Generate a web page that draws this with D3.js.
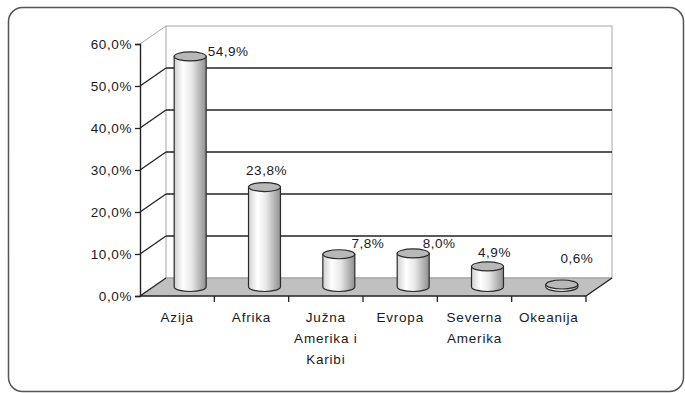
<!DOCTYPE html>
<html>
<head>
<meta charset="utf-8">
<script src="https://cdn.jsdelivr.net/npm/d3@7"></script>
<style>
  body { margin: 0; background: #fff; }
  svg text { font-family: "Liberation Sans", Arial, sans-serif; fill: #1a1a1a; }
</style>
</head>
<body>
<figure id="bar" style="margin:0"></figure>
<script>
const categories = [
  ["Azija"],
  ["Afrika"],
  ["Južna", "Amerika i", "Karibi"],
  ["Evropa"],
  ["Severna", "Amerika"],
  ["Okeanija"]
]
const values = [54.9, 23.8, 7.8, 8.0, 4.9, 0.6]
const valueLabels = ["54,9%", "23,8%", "7,8%", "8,0%", "4,9%", "0,6%"]
const yTicks = [0, 10, 20, 30, 40, 50, 60]
const yTickLabels = ["0,0%", "10,0%", "20,0%", "30,0%", "40,0%", "50,0%", "60,0%"]

// Excel put the value labels a bit wherever, nudge them from the cylinder top
const labelNudge = [[38, -5], [2, -17], [29, -11], [26, -10], [7, -14], [15, -26]]

const width = 685
const height = 393
const depthX = 26
const depthY = -18

const svg = d3.select("figure#bar")
  .append("svg")
  .attr("width", width)
  .attr("height", height)

// rounded frame
svg.append("rect")
  .attr("x", 8.5).attr("y", 7.5)
  .attr("width", 675).attr("height", 384)
  .attr("rx", 14)
  .attr("fill", "none")
  .attr("stroke", "#555")
  .attr("stroke-width", 1.5)

const x = d3.scaleBand()
  .domain(d3.range(categories.length))
  .range([140, 586])

const y = d3.scaleLinear()
  .domain([0, 60])
  .range([296, 44])

const x0 = x.range()[0], x1 = x.range()[1]

const defs = svg.append("defs")
const grad = defs.append("linearGradient").attr("id", "cyl")
grad.append("stop").attr("offset", "0%").attr("stop-color", "#d0d0d0")
grad.append("stop").attr("offset", "28%").attr("stop-color", "#ffffff")
grad.append("stop").attr("offset", "55%").attr("stop-color", "#e8e8e8")
grad.append("stop").attr("offset", "100%").attr("stop-color", "#8f8f8f")

// back wall
svg.append("rect")
  .attr("x", x0 + depthX).attr("y", y(60) + depthY)
  .attr("width", x1 - x0).attr("height", y(0) - y(60))
  .attr("fill", "#fff")
  .attr("stroke", "#a6a6a6")

// floor
svg.append("path")
  .attr("d", `M${x0},${y(0)}L${x1},${y(0)}L${x1 + depthX},${y(0) + depthY}L${x0 + depthX},${y(0) + depthY}Z`)
  .attr("fill", "#c0c0c0")
  .attr("stroke", "none")
svg.append("line")
  .attr("x1", x0 + depthX).attr("x2", x1 + depthX)
  .attr("y1", y(0) + depthY).attr("y2", y(0) + depthY)
  .attr("stroke", "#999")

// gridlines on back wall + side wall diagonals
svg.selectAll(".grid")
  .data(yTicks.filter(t => t > 0 && t < 60))
  .enter()
  .append("line")
  .attr("x1", x0 + depthX).attr("x2", x1 + depthX)
  .attr("y1", d => y(d) + depthY).attr("y2", d => y(d) + depthY)
  .attr("stroke", "#222")
  .attr("stroke-width", 1.4)

svg.selectAll(".diag")
  .data(yTicks)
  .enter()
  .append("line")
  .attr("x1", x0).attr("x2", x0 + depthX)
  .attr("y1", d => y(d)).attr("y2", d => y(d) + depthY)
  .attr("stroke", d => d === 60 ? "#aaa" : "#222")
  .attr("stroke-width", d => d === 60 ? 1 : 1.3)

// right edge of floor
svg.append("line")
  .attr("x1", x1).attr("x2", x1 + depthX)
  .attr("y1", y(0)).attr("y2", y(0) + depthY)
  .attr("stroke", "#222")
  .attr("stroke-width", 1.3)

// y axis
const yAxis = svg.append("g")
  .attr("transform", "translate(" + x0 + ",0)")
  .call(d3.axisLeft(y).tickValues(yTicks).tickSize(5).tickFormat((d, i) => yTickLabels[i]))
yAxis.select(".domain").attr("stroke", "#222").attr("stroke-width", 1.4)
yAxis.selectAll(".tick line").attr("stroke", "#222").attr("stroke-width", 1.3)
yAxis.selectAll(".tick text")
  .attr("x", -8)
  .style("font-size", "13.5px")
  .style("letter-spacing", "0.6px")
  .attr("fill", "#1a1a1a")

// x axis line + ticks between categories
svg.append("line")
  .attr("x1", x0).attr("x2", x1)
  .attr("y1", y(0)).attr("y2", y(0))
  .attr("stroke", "#222").attr("stroke-width", 1.4)
svg.selectAll(".xtick")
  .data(d3.range(1, categories.length + 1))
  .enter()
  .append("line")
  .attr("x1", i => x0 + i * x.step()).attr("x2", i => x0 + i * x.step())
  .attr("y1", y(0)).attr("y2", y(0) + 6)
  .attr("stroke", "#222").attr("stroke-width", 1.3)

// category labels
const catText = svg.selectAll(".cat")
  .data(categories)
  .enter()
  .append("text")
  .attr("text-anchor", "middle")
  .style("font-size", "13.5px")
  .style("letter-spacing", "0.8px")
  .attr("x", (d, i) => x(i) + x.bandwidth() / 2)
  .attr("y", 322)
catText.selectAll("tspan")
  .data(d => d)
  .enter()
  .append("tspan")
  .attr("x", function () { return d3.select(this.parentNode).attr("x") })
  .attr("dy", (d, i) => i === 0 ? 0 : 21)
  .text(d => d)

// cylinders at mid depth
const rx = x.bandwidth() * 0.215
const ry = 4.5
const cx = i => x(i) + x.bandwidth() / 2 + depthX / 2
const yMid = v => y(v) + depthY / 2

const bars = svg.selectAll(".bar")
  .data(values)
  .enter()
  .append("g")

bars.append("path")
  .attr("d", (d, i) => {
    const c = cx(i), yt = yMid(d), yb = yMid(0)
    return `M${c - rx},${yt}L${c - rx},${yb}A${rx},${ry} 0 0 0 ${c + rx},${yb}L${c + rx},${yt}Z`
  })
  .attr("fill", "url(#cyl)")
  .attr("stroke", "#2a2a2a")
  .attr("stroke-width", 1.2)

bars.append("ellipse")
  .attr("cx", (d, i) => cx(i))
  .attr("cy", d => yMid(d))
  .attr("rx", rx)
  .attr("ry", ry)
  .attr("fill", "#b8b8b8")
  .attr("stroke", "#2a2a2a")
  .attr("stroke-width", 1.2)

// value labels
svg.selectAll(".val")
  .data(values)
  .enter()
  .append("text")
  .attr("text-anchor", "middle")
  .attr("dominant-baseline", "central")
  .style("font-size", "13.5px")
  .style("letter-spacing", "0.5px")
  .attr("x", (d, i) => cx(i) + labelNudge[i][0])
  .attr("y", (d, i) => yMid(d) + labelNudge[i][1])
  .text((d, i) => valueLabels[i])
</script>
</body>
</html>
